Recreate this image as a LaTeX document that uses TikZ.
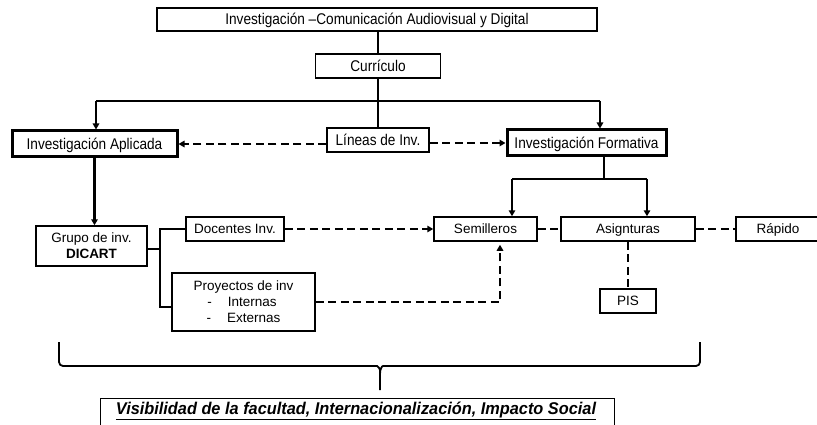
\documentclass[tikz,border=0pt]{standalone}
\usepackage{fontspec}
\setmainfont{Liberation Sans}
\newfontfamily\condf[FakeStretch=0.88]{Liberation Sans}
\newfontfamily\condb[FakeStretch=0.96]{Liberation Sans}
\usetikzlibrary{arrows.meta}
\begin{document}
\begin{tikzpicture}[x=1pt,y=-1pt,
  box/.style={draw,line width=1.5pt,inner sep=0pt,text height=12.5pt,text depth=1.5pt,font=\condf\fontsize{15.5}{17}\selectfont},
  thickbox/.style={box,line width=3pt},
  lbox/.style={draw,line width=1.5pt,inner sep=0pt,align=center,font=\fontsize{13.5}{16}\selectfont},
  sbox/.style={lbox,text height=11pt,text depth=2pt},
  conn/.style={line width=2.5pt},
  arr/.style={conn,-{Triangle[length=6pt,width=6.5pt]}},
  dconn/.style={line width=2.5pt,dash pattern=on 8pt off 4.5pt},
  darr/.style={dconn,-{Triangle[length=6pt,width=6.5pt]}}]
\clip (0,0) rectangle (817,425);
\fill[white] (0,0) rectangle (817,425);
% top part
\node[box,minimum width=440pt,minimum height=23pt] (title) at (377,19.5) {Investigación –Comunicación Audiovisual y Digital};
\node[box,minimum width=125pt,minimum height=24pt] (curr) at (378,66) {Currículo};
\node[box,minimum width=102pt,minimum height=24pt] (lineas) at (378,140) {Líneas de Inv.};
\node[thickbox,minimum width=165pt,minimum height=26pt] (apl) at (94.5,144) {Investigación Aplicada};
\node[thickbox,minimum width=159pt,minimum height=26pt] (form) at (586.5,143) {Investigación Formativa};
% lower part
\node[lbox,minimum width=111pt,minimum height=40pt] (grupo) at (91.5,246) {Grupo de inv.\\\textbf{DICART}};
\node[sbox,minimum width=98pt,minimum height=24pt] (docentes) at (235,229) {Docentes Inv.};
\node[lbox,minimum width=143pt,minimum height=58pt] (proyectos) at (243.5,302) {Proyectos de inv\\\hspace*{-3pt}-\hspace{16pt}Internas\\-\hspace{16pt}Externas};
\node[sbox,minimum width=103pt,minimum height=24pt] (semilleros) at (485.5,229) {Semilleros};
\node[sbox,minimum width=134pt,minimum height=24pt] (asign) at (628,229) {Asignturas};
\node[sbox,minimum width=84pt,minimum height=24pt] (rapido) at (778,229) {Rápido};
\node[sbox,minimum width=56pt,minimum height=24pt] (pis) at (628,301) {PIS};
% bottom box
\node[draw,line width=0.9pt,inner sep=0pt,minimum width=514pt,minimum height=50pt,anchor=north] (impactobox) at (357,398) {};
\node[inner sep=0pt,font=\condb\bfseries\itshape\fontsize{17}{19}\selectfont] (impacto) at (356,411) {\underline{Visibilidad de la facultad, Internacionalización, Impacto Social}};
% connectors top
\coordinate (barL) at (96,101);
\coordinate (barR) at (600,101);
\draw[conn] (curr.north |- title.south) -- (curr.north);
\draw[conn] (curr.south) -- (lineas.north);
\draw[conn] (barL) -- (barR);
\draw[arr] (barL) -- (barL |- apl.north);
\draw[arr] (barR) -- (barR |- form.north);
\draw[darr] (lineas.west |- apl.east) -- (apl.east);
\draw[darr] (lineas.east |- form.west) -- (form.west);
% left branch
\draw[arr] (apl.south) -- (apl.south |- grupo.north);
\coordinate (gj) at (160,249);
\coordinate (bt) at (160,229);
\coordinate (bb) at (160,307);
\draw[conn] (grupo.east |- gj) -- (gj);
\draw[conn] (docentes.west) -- (bt) -- (bb) -- (bb -| proyectos.west);
\draw[darr] (docentes.east) -- (semilleros.west);
\coordinate (pc) at (500,302);
\draw[darr,shorten >=3pt] (proyectos.east |- pc) -- (pc) -- (pc |- semilleros.south);
% right branch
\coordinate (fj) at (604,179);
\coordinate (fl) at (512,179);
\coordinate (fr) at (647,179);
\draw[conn] (fj |- form.south) -- (fj);
\draw[conn] (fl) -- (fr);
\draw[arr] (fl) -- (fl |- semilleros.north);
\draw[arr] (fr) -- (fr |- asign.north);
\draw[dconn] (semilleros.east) -- (asign.west);
\draw[dconn] (asign.east) -- (rapido.west);
\draw[dconn] (asign.south) -- (pis.north);
% brace
\draw[line width=1.8pt,rounded corners=4pt] (59,342) -- (59,366) -- (373,366) .. controls (378,366) and (380,369) .. (380,374) -- (380,390);
\draw[line width=1.8pt,rounded corners=4pt] (380,374) .. controls (380,369) and (382,366) .. (387,366) -- (700,366) -- (700,342);
\end{tikzpicture}
\end{document}
